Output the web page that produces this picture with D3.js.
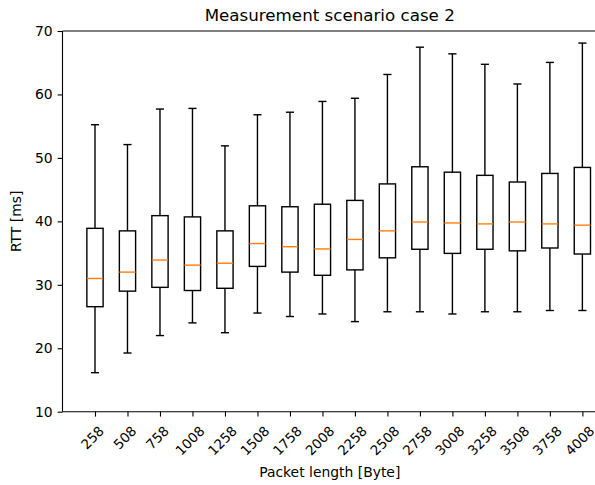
<!DOCTYPE html>
<html>
<head>
<meta charset="utf-8">
<script src="https://cdn.jsdelivr.net/npm/d3@7"></script>
<style>
  body { margin: 0; background: #fff; }
  text { font-family: "DejaVu Sans", sans-serif; fill: #000; }
</style>
</head>
<body>
<div id="chart"></div>
<script>
var categories = ["258", "508", "758", "1008", "1258", "1508", "1758", "2008",
  "2258", "2508", "2758", "3008", "3258", "3508", "3758", "4008"]
var whiskerLow = [16.15, 19.25, 22.0, 24.0, 22.45, 25.55, 25.0, 25.4, 24.2, 25.75, 25.75, 25.4, 25.75, 25.75, 25.95, 25.95]
var q1 = [26.55, 29.0, 29.6, 29.1, 29.45, 32.9, 32.0, 31.5, 32.35, 34.25, 35.6, 34.95, 35.6, 35.35, 35.8, 34.85]
var medians = [31.0, 32.0, 33.9, 33.1, 33.4, 36.5, 36.0, 35.65, 37.15, 38.5, 39.9, 39.75, 39.6, 39.9, 39.6, 39.4]
var q3 = [38.9, 38.5, 40.9, 40.7, 38.5, 42.45, 42.3, 42.7, 43.3, 45.9, 48.6, 47.75, 47.25, 46.2, 47.55, 48.5]
var whiskerHigh = [55.23, 52.1, 57.7, 57.8, 51.9, 56.8, 57.2, 58.9, 59.4, 63.15, 67.45, 66.4, 64.75, 61.65, 65.05, 68.1]
var yTicks = [10, 20, 30, 40, 50, 60, 70]

var width = 595, height = 485
var mLeft = 62.5, mRight = 597, mTop = 31, mBottom = 411.7

var svg = d3.select("#chart").append("svg")
  .attr("width", width)
  .attr("height", height)

var boxes = categories.map(function (c, i) {
  return { name: c, pos: i + 1, lo: whiskerLow[i], q1: q1[i], med: medians[i], q3: q3[i], hi: whiskerHigh[i] }
})

var x = d3.scaleLinear().domain([0, 16.45]).range([mLeft, mRight])
var y = d3.scaleLinear().domain([10, 70]).range([mBottom, mTop])

var boxW = x(0.25) - x(0)
var capW = x(0.125) - x(0)

// boxes
var g = svg.append("g")
  .attr("fill", "none")
  .attr("stroke-width", 1.4)
  .selectAll("g")
  .data(boxes)
  .join("g")

g.append("line")
  .attr("stroke", "#000")
  .attr("x1", d => x(d.pos)).attr("x2", d => x(d.pos))
  .attr("y1", d => y(d.q3)).attr("y2", d => y(d.hi))
g.append("line")
  .attr("stroke", "#000")
  .attr("x1", d => x(d.pos)).attr("x2", d => x(d.pos))
  .attr("y1", d => y(d.q1)).attr("y2", d => y(d.lo))
g.append("line")
  .attr("stroke", "#000")
  .attr("x1", d => x(d.pos) - capW).attr("x2", d => x(d.pos) + capW)
  .attr("y1", d => y(d.hi)).attr("y2", d => y(d.hi))
g.append("line")
  .attr("stroke", "#000")
  .attr("x1", d => x(d.pos) - capW).attr("x2", d => x(d.pos) + capW)
  .attr("y1", d => y(d.lo)).attr("y2", d => y(d.lo))
g.append("rect")
  .attr("stroke", "#000")
  .attr("x", d => x(d.pos) - boxW)
  .attr("width", boxW * 2)
  .attr("y", d => y(d.q3))
  .attr("height", d => y(d.q1) - y(d.q3))
g.append("line")
  .attr("stroke", "#ff7f0e")
  .attr("x1", d => x(d.pos) - boxW).attr("x2", d => x(d.pos) + boxW)
  .attr("y1", d => y(d.med)).attr("y2", d => y(d.med))

// spines
var spine = svg.append("g").attr("stroke", "#000").attr("stroke-width", 1.1)
spine.append("line").attr("x1", mLeft).attr("x2", mLeft).attr("y1", mTop).attr("y2", mBottom)
spine.append("line").attr("x1", mLeft).attr("x2", mRight).attr("y1", mBottom).attr("y2", mBottom)
spine.append("line").attr("x1", mLeft).attr("x2", mRight).attr("y1", mTop).attr("y2", mTop)
spine.append("line").attr("x1", mRight).attr("x2", mRight).attr("y1", mTop).attr("y2", mBottom)

// y axis
var yAxis = svg.append("g")
  .attr("transform", "translate(" + mLeft + ",0)")
  .call(d3.axisLeft(y).tickValues(yTicks).tickSize(4.9).tickPadding(4.9))
yAxis.select(".domain").remove()
yAxis.selectAll(".tick line").attr("stroke", "#000").attr("stroke-width", 1.1)
yAxis.selectAll("text").attr("font-size", 13.9).attr("font-family", "DejaVu Sans").attr("fill", "#000")

// x axis, labels rotated 45 degrees
var xAxis = svg.append("g")
  .attr("transform", "translate(0," + mBottom + ")")
  .call(d3.axisBottom(x).tickValues(boxes.map(d => d.pos)).tickFormat((d, i) => categories[i]).tickSize(4.9))
xAxis.select(".domain").remove()
xAxis.selectAll(".tick line").attr("stroke", "#000").attr("stroke-width", 1.1)
xAxis.selectAll("text")
  .attr("font-size", 13.5)
  .attr("font-family", "DejaVu Sans")
  .attr("fill", "#000")
  .attr("text-anchor", "middle")
  .attr("dominant-baseline", "central")
  .attr("dy", null)
  .each(function () {
    var w = this.getComputedTextLength()
    var h = 16.2
    var cx = -3.2
    var cy = 11 + (w + h) / Math.SQRT2 / 2
    d3.select(this).attr("x", cx).attr("y", cy)
      .attr("transform", "rotate(-45," + cx + "," + cy + ")")
  })

// labels
svg.append("text")
  .attr("x", (mLeft + mRight) / 2)
  .attr("y", 20.7)
  .attr("text-anchor", "middle")
  .attr("font-size", 16.7)
  .text("Measurement scenario case 2")

svg.append("text")
  .attr("x", (mLeft + mRight) / 2)
  .attr("y", 477)
  .attr("text-anchor", "middle")
  .attr("font-size", 13.9)
  .text("Packet length [Byte]")

svg.append("text")
  .attr("transform", "translate(21," + (mTop + mBottom) / 2 + ") rotate(-90)")
  .attr("text-anchor", "middle")
  .attr("font-size", 13.9)
  .text("RTT [ms]")
</script>
</body>
</html>
